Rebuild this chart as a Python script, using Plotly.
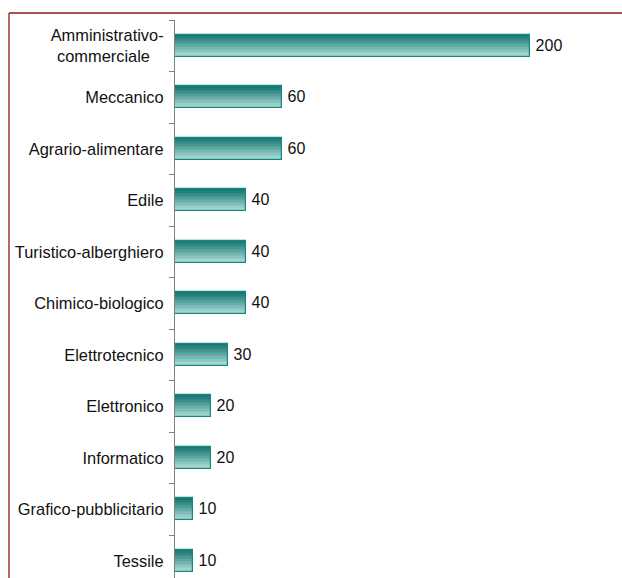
import plotly.graph_objects as go
import numpy as np

# Settori / indirizzi and number of institutes
categorie = [
    "Amministrativo-<br>commerciale\u00a0\u00a0\u00a0",
    "Meccanico",
    "Agrario-alimentare",
    "Edile",
    "Turistico-alberghiero",
    "Chimico-biologico",
    "Elettrotecnico",
    "Elettronico",
    "Informatico",
    "Grafico-pubblicitario",
    "Tessile",
]
valori = [200, 60, 60, 40, 40, 40, 30, 20, 20, 10, 10]

W, H = 622, 578
ML, MT, MR, MB = 175, 20, 40, 0
PX_PER_UNIT = 1.775
ROW_PX = 51.5

plot_w = W - ML - MR
plot_h = H - MT - MB
x_max = plot_w / PX_PER_UNIT
n_rows = plot_h / ROW_PX

BAR_W = 0.42
N_STRIPS = 14
top_col = np.array([0x1a, 0x78, 0x72])
bot_col = np.array([0xad, 0xdc, 0xd8])

FONT = "Liberation Sans"

fig = go.Figure()

# vertical gradient inside each bar: stacked overlay layers, dark at top
for k in range(N_STRIPS):
    t = k / (N_STRIPS - 1)
    c = (top_col + (bot_col - top_col) * t).round().astype(int)
    off = -BAR_W / 2 + k * BAR_W / N_STRIPS
    fig.add_trace(go.Bar(
        y=categorie, x=valori, orientation="h",
        width=BAR_W - k * BAR_W / N_STRIPS, offset=off,
        marker=dict(color=f"rgb({c[0]},{c[1]},{c[2]})", line=dict(width=0)),
        hoverinfo="skip", showlegend=False,
    ))

# outline and value labels
fig.add_trace(go.Bar(
    y=categorie, x=valori, orientation="h",
    width=BAR_W, offset=-BAR_W / 2,
    marker=dict(color="rgba(0,0,0,0)", line=dict(color="#138a80", width=1.2)),
    text=["\u2009" + str(v) for v in valori], textposition="outside",
    textfont=dict(family=FONT, size=16, color="#111111"),
    cliponaxis=False, showlegend=False,
))

# dark red frame (left and top edges)
fx = (9 - ML) / plot_w
fy = 1 + (MT - 13) / plot_h
frame = "#8b1a1a"
fig.add_shape(type="line", xref="paper", yref="paper", x0=fx, x1=fx, y0=-0.05, y1=fy,
              line=dict(color=frame, width=1.3))
fig.add_shape(type="line", xref="paper", yref="paper", x0=fx, x1=1 + MR / plot_w, y0=fy, y1=fy,
              line=dict(color=frame, width=1.3))

fig.update_layout(
    width=W, height=H,
    margin=dict(l=ML, r=MR, t=MT, b=MB),
    paper_bgcolor="white", plot_bgcolor="white",
    barmode="overlay", bargap=0,
    font=dict(family=FONT, size=16, color="#111111"),
    xaxis=dict(range=[0, x_max], visible=False),
    yaxis=dict(
        type="category", range=[n_rows - 0.5, -0.5],
        showline=True, linecolor="#7f7f7f", linewidth=1.2,
        ticks="outside", tickson="boundaries", ticklen=5, tickcolor="#7f7f7f",
        ticklabelstandoff=7,
        showgrid=False, zeroline=False,
        tickfont=dict(family=FONT, size=16.4, color="#111111"),
    ),
)

fig.write_html("out.html")
